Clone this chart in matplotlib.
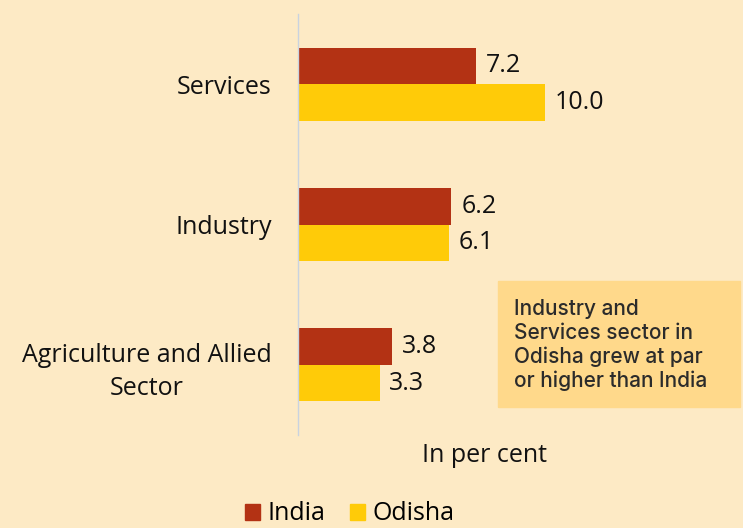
import matplotlib.pyplot as plt
from matplotlib.patches import Patch

# data
sectors = ["Agriculture and Allied\nSector", "Industry", "Services"]
india = [3.8, 6.2, 7.2]
odisha = [3.3, 6.1, 10.0]

bg = "#FDEAC5"
c_india = "#B33214"
c_odisha = "#FFCB08"

plt.rcParams['font.family'] = ['Open Sans', 'DejaVu Sans']

fig = plt.figure(figsize=(7.43, 5.28), dpi=100, facecolor=bg)
ax = fig.add_axes([0.401, 0.176, 0.599, 0.7975])
ax.set_facecolor(bg)

h = 0.26
ypos = list(range(len(sectors)))
bi = ax.barh([y + h / 2 for y in ypos], india, height=h, color=c_india)
bo = ax.barh([y - h / 2 for y in ypos], odisha, height=h, color=c_odisha)

for bars in (bi, bo):
    for b in bars:
        ax.text(b.get_width() + 0.4, b.get_y() + b.get_height() / 2,
                f"{b.get_width():.1f}", va="center", ha="left",
                fontsize=18, color="#111111")

ax.set_xlim(0, 18)
ax.set_ylim(-0.5, 2.5)
ax.set_yticks(ypos)
ax.set_yticklabels(sectors, fontsize=18, color="#111111", ha="right",
                   multialignment="center", linespacing=1.45)
ax.tick_params(axis="y", length=0, pad=19)
ax.set_xticks([])
for s in ["top", "right", "bottom"]:
    ax.spines[s].set_visible(False)
ax.spines["left"].set_color("#C9D3E0")
ax.spines["left"].set_linewidth(1.0)

# note box
fig.patches.append(plt.Rectangle((498 / 743, 1 - 407 / 528), 242 / 743, 126 / 528,
                                 transform=fig.transFigure, color="#FFD98B", zorder=0))
fig.text(514 / 743, 1 - 345 / 528,
         "Industry and\nServices sector in\nOdisha grew at par\nor higher than India",
         family=["Inter", "DejaVu Sans"], fontsize=15, color="#2B2B2B",
         va="center", ha="left", linespacing=1.22, weight="medium")

fig.text(484 / 743, 1 - 455 / 528, "In per cent", fontsize=18, color="#111111",
         ha="center", va="center")

handles = [Patch(color=c_india, label="India"), Patch(color=c_odisha, label="Odisha")]
fig.legend(handles=handles, loc="center", bbox_to_anchor=(350 / 743, 1 - 514 / 528),
           ncol=2, frameon=False, fontsize=18, handlelength=0.6, handleheight=0.6,
           handletextpad=0.3, columnspacing=1.0, borderpad=0)

fig.savefig("out.png", dpi=100, facecolor=bg)
